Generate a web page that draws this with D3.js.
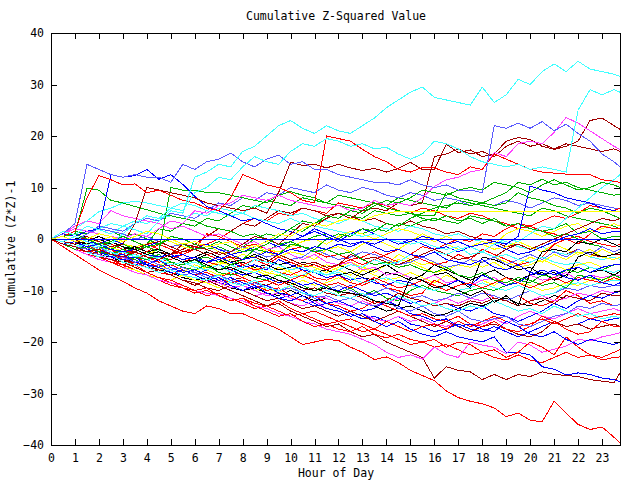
<!DOCTYPE html>
<html><head><meta charset="utf-8">
<script src="https://cdn.jsdelivr.net/npm/d3@7"></script>
<style>
body{margin:0;background:#fff}
svg{display:block}
text{font-family:"DejaVu Sans Mono",monospace;font-size:11.5px;fill:#000}
</style>
</head><body>
<svg id="chart" width="640" height="480"></svg>
<script>
const titleText = "Cumulative Z-Squared Value";
const xLabelText = "Hour of Day";
const yLabelText = "Cumulative (Z*Z)-1";
const hourTicks = d3.range(0, 24);
const valueTicks = [-40, -30, -20, -10, 0, 10, 20, 30, 40];
// sample times (hours): every half hour, then the last sample at 23:45
const hours = [0,0.5,1,1.5,2,2.5,3,3.5,4,4.5,5,5.5,6,6.5,7,7.5,8,8.5,9,9.5,10,10.5,11,11.5,
  12,12.5,13,13.5,14,14.5,15,15.5,16,16.5,17,17.5,18,18.5,19,19.5,20,20.5,21,21.5,22,22.5,23,23.5,23.75];

const palette = {red:"#ff0000", green:"#00b000", blue:"#0000ff", magenta:"#ff40ff", cyan:"#40ffff",
  darkred:"#a00000", yellow:"#ffff00", black:"#000000", lightblue:"#5a5aff"};

const seriesColors = [
 "green","red","lightblue","darkred","blue","magenta","green","cyan","red","yellow","black",
 "yellow","yellow","yellow","yellow","black","black","red","red","red","green","green","magenta","magenta",
 "lightblue","lightblue","blue","blue","blue","cyan","darkred","darkred","red","red","darkred",
 "red","darkred","blue","magenta","red","red","blue","lightblue","cyan",
 "green","green","green","cyan","cyan","blue","black","blue","darkred","darkred","magenta",
 "red","green","lightblue","cyan","cyan","yellow","blue"
];

const seriesValues = [
 [0,-0.5,-1,-2,-1.5,-0.5,-1.5,-2.5,-1,2,1.5,3, 2.5,4,3.5,5,6.5,6,7.5,7,6.5,8,7.5,7, 8.5,8,7.5,7,6.5,8,7.5,7,6.5,6,7.5,7, 6.5,6,5.5,5,4.5,6,5.5,4.5,4,3.5,3,2.5, 2],
 [0,-1,-0.5,-1.5,-2.5,-2,-3,-2,-1,-2,-3,-2.5, -1.5,-1,0,1.5,3,4,3.5,5,4.5,6,5.5,5, 7,6.5,6,7,6.5,5.5,5,6,5.5,4.5,4,5, 4.5,3.5,3,2,2.5,1.5,1,0,0.5,-0.5,-1,-1.5, -1],
 [0,0.5,1.5,1,2.5,2,1.5,3,4,3.5,5,4.5, 4,5.5,7,6.5,8,7.5,9,8.5,10,9.5,9,10.5, 9.5,9,10,9.5,8.5,8,9,8.5,7.5,8,7.5,6.5, 7,6.5,7.5,7,6,7,8,7.5,6.5,7,6.5,6, 6],
 [0,-0.5,-1.5,-1,0,-1,-2,-2.5,-1.5,-2.5,-3,-2, -1,0.5,2,1.5,3,2.5,4,5.5,5,6,5.5,4.5, 5,4.5,3.5,4,3,2.5,3.5,2.5,2,1,1.5,0.5, 0,-0.5,-1.5,-1,-2,-1.5,-2.5,-3,-2,-3,-3.5,-3, -3],
 [0,-0.5,-1.5,-2.5,-2,-3,-4,-5,-4.5,-5.5,-6.5,-7, -6.5,-7.5,-8.5,-9,-10,-9.5,-10.5,-11.5,-11,-12,-13,-12.5, -13.5,-14.5,-15.5,-15,-16,-15,-16.5,-17,-18,-17.5,-16.5,-17.5, -18,-17,-18,-19,-18,-17,-16,-17,-16.5,-15.5,-16,-15.5, -15.3],
 [0,-0.5,-1,-2,-3,-2.5,-3.5,-4.5,-4,-5,-6,-7, -7.5,-8.5,-8,-9,-10,-11,-10.5,-11.5,-12.5,-13,-12,-13.5, -14,-15,-14.5,-15.5,-16,-15,-16,-15.5,-16.5,-17,-16,-17, -16.5,-15.5,-16.5,-15,-14,-15,-15.5,-14.5,-13.5,-14.5,-14,-13.5, -14],
 [0,0.5,-0.5,-1,-2,-1,-2,-3,-2.5,-3.5,-4,-3, -4,-3.5,-4.5,-4,-3,-3.5,-2.5,-1,-1.5,-0.5,0.5,1, 0,1.5,1,2,1.5,3,2.5,3.5,4,3.5,3,4.5, 4,3.5,2.5,3,2,1.5,0.5,1,0,-1,-1.5,-2.5, -2],
 [0,0.5,1.5,1,2,3,2.5,3.5,3,4,4.5,4, 5,4.5,6,5.5,5,6.5,6,5.5,4.5,5,4,3.5, 3,4,3.5,2.5,2,1.5,2.5,2,1,0.5,1,0, -0.5,-1,-0.5,-1.5,-2,-1.5,-2.5,-3,-2.5,-3.5,-4,-3.5, -4],
 [0,-1,-2,-2.5,-3.5,-4.5,-5,-6,-7,-7.5,-8.5,-9.5, -10,-11,-10.5,-11.5,-12.5,-13.5,-13,-14,-15,-14.5,-15.5,-16.5, -16,-17,-18,-17.5,-18.5,-19.5,-20.5,-20,-21,-20.5,-21.5,-22.5, -22,-23,-23.5,-22.5,-23.5,-24,-23,-22,-23,-22.5,-23.5,-23, -22.9],
 [0,-0.5,-1,-2,-1.5,-2.5,-3.5,-3,-4,-5,-4.5,-5.5, -6,-5.5,-4.5,-5,-6,-5.5,-6.5,-7,-6,-5,-5.5,-6.5, -5.5,-4.5,-5.5,-6,-5,-4,-4.5,-5.5,-6.5,-6,-5,-5.5, -4.5,-3.5,-4.5,-5.5,-5,-4,-5,-6,-5,-4.5,-5.5,-5, -5],
 [0,-0.5,-1.5,-2,-3,-3.5,-4.5,-4,-5,-6,-6.5,-7.5, -8,-7.5,-8.5,-9.5,-10,-9.5,-10.5,-11,-10,-11,-12,-11.5, -12.5,-13,-12,-13,-14,-13.5,-13,-14,-15,-14.5,-13.5,-12.5, -13,-12,-11.5,-12.5,-13,-12,-11,-11.5,-10.5,-11,-10,-10.5, -10],
 [0,-0.5,-1.5,-2.5,-3,-2.5,-4,-4.5,-5.5,-6,-5.5,-6.5, -5,-6,-7,-6.5,-7.5,-6,-7,-5.5,-6.5,-7.5,-6,-5, -6,-7,-5.5,-6.5,-5,-3,-4,-5,-4.5,-6,-5,-4, -5.5,-4.5,-6,-5,-3.5,-4.5,-3,-4,-2.5,-3.5,-2,-3, -2.6],
 [0,-1,-2,-3,-3.5,-4.5,-5.5,-6,-7,-7.5,-8,-7, -8,-8.5,-9.5,-8,-9,-10,-9.5,-10.5,-9,-8,-9,-8.5, -7.5,-8.5,-6,-7,-8,-7.5,-6.5,-7.5,-8.5,-7,-8,-9, -8,-9,-7.5,-8.5,-9,-10,-9.5,-8.5,-9,-8,-7.5,-8, -7.9],
 [0,0.5,1,0,-0.5,0.5,-1,-1.5,-1,0,-0.5,-1.5, -2,-1,-2.5,-3,-2,-1,-2.5,-3.5,-2.5,-3,-4,-2, -1.5,-2.5,-1,0,-1,-2,-0.5,1,0,-1,-2,-1.5, -0.5,-1,1,2,1.5,0.5,1.5,2.5,3,1.5,2,3, 2.5],
 [0,-0.5,0.5,-1,-2,-1.5,-2.5,-3.5,-3,-2,-3,-4, -3.5,-4.5,-5,-4,-3,-3.5,-2,-2.5,-1.5,-0.5,0,-1, 0.5,1.5,1,0,1,2,1.5,0.5,-0.5,0.5,-0.5,-1.5, -1,-2,-1.5,-0.5,-1.5,-2.5,-1,-2,-3,-2,-3.5,-4, -3.5],
 [0,0,0,0.5,-0.5,-1.5,-1,-2,-1.5,-2.5,-3.5,-3, -4,-3,-4,-5,-4.5,-5.5,-5,-6,-5.5,-4.5,-5,-6, -7,-6.5,-7.5,-8,-6.5,-7,-8,-7,-5,-6,-7,-8, -7,-6,-7.5,-8,-7,-6.5,-8,-7,-5.5,-6.5,-6,-7, -6.3],
 [0,0.5,-0.5,-1,0,-1,-2,-1.5,-2.5,-2,-3,-4, -3.5,-2.5,-3.5,-4.5,-4,-3,-4,-5,-4.5,-5.5,-6.5,-6, -5,-6,-7,-6,-5,-6.5,-7.5,-8,-7,-6.5,-8,-9.5, -3.5,-4,-5,-6,-5.5,-7,-6.5,-7.5,-3.5,-2.5,-3.5,-3, -2.6],
 [0,0.5,-0.5,-1.5,-1,-2,-3,-2.5,-3.5,-4.5,-4,-3, -2,-3,-4,-3.5,-5,-6,-5.5,-6.5,-7,-6,-7.5,-8, -7,-8.5,-9,-8,-9.5,-10,-11,-10.5,-8,-9,-10,-11, -10,-11.5,-12,-11,-12.5,-13,-12,-10,-11,-12.5,-12,-13, -12.7],
 [0,1,0.5,-0.5,-1.5,-1,-2,-3,-2.5,-1,-2,-3, -2,1,0.5,-0.5,-1.5,-1,-2,-3,-2,-1.5,-2.5,-3.5, -3,-4,-3.5,-2.5,-3.5,-4.5,-3,-4,-5,-4.5,-3,-4, -2,-3,-4,-5,-4.5,-3.5,-1,0,-1,1,2.5,2, 2],
 [0,-0.5,-1.5,-2,-3,-2,-3.5,-4,-3,-4,-5,-4.5, -3.5,-4.5,-5,-6,-5,-4,-5,-3.5,-4.5,-5.5,-5,-6, -5,-4,-5,-4,-3,-2,-3,-1.5,-2,-1,0,-0.5, 1,0.5,2,3,2.5,3.5,4.5,4,5,6.5,6,5.5, 6],
 [0,-0.5,-1,-2,-2.5,-3.5,-3,-4,-5,-5.5,-4.5,-5.5, -6,-5,-6.5,-7,-6.5,-7.5,-8,-7,-8,-9,-10,-9, -10.5,-9.5,-11,-10,-11.5,-12,-10,-9,-10,-10.5,-11,-10, -9.5,-10,-9,-8,-8.5,-7,-7.5,-6,-6.5,-5.5,-6,-5, -5],
 [0,0.5,1.5,1,2,1.5,0.5,1,0,-1,0.5,0, -1,-2,-1.5,-2.5,-1.5,0,1,0.5,2,3.5,3,4, 5,4.5,4,5.5,5,4.5,5,4,3.5,4.5,3.5,4, 3,4,2.5,3,2,1.5,2,3,1,1.5,0,0.5, 0.5],
 [0,1,2.5,3.5,3,5.5,4.5,4,3.5,3,2,2.5, 1.5,0.5,1,0,-1,-0.5,-2,-1.5,-3,-4,-3,-4.5, -5,-4.5,-6,-5.5,-7,-6.5,-7.5,-8,-7,-8.5,-8,-9, -8,-7.5,-9,-8.5,-7,-8,-7.5,-6.5,-8,-7,-7.5,-7, -7],
 [0,-0.5,-1.5,-2.5,-3,-4,-3.5,-5,-5.5,-6.5,-7,-6, -7,-8,-8.5,-9.5,-9,-10,-11,-10.5,-11.5,-12,-11,-11.5, -12.5,-13,-12,-13,-12.5,-11.5,-12,-13,-12.5,-11.5,-12.5,-11.5, -12,-11,-12,-13,-12,-11,-12,-11.5,-10.5,-11,-10,-10.5, -10],
 [0,0.5,-0.5,1,2,1.5,1,0,0.5,-0.5,-1.5,-1, -2,-1,-2,-2.5,-1.5,-2.5,-3.5,-3,-4,-3.5,-2,-3, -4,-3.5,-2.5,-3,-4,-5,-4.5,-3.5,-4.5,-5.5,-5,-4, -4.5,-3.5,-5,-4,-3,-4,-2.5,-3.5,-2,-3,-1.5,-2.5, -2],
 [0,-1,-1.5,-2.5,-3,-2.5,-4,-4.5,-5.5,-5,-6,-7, -6.5,-7,-8,-7.5,-8.5,-9.5,-9,-10,-9.5,-10.5,-11,-10, -9,-10,-11,-10.5,-9.5,-10.5,-11.5,-11,-12,-11.5,-10.5,-11.5, -10.5,-11,-12,-11,-10,-11,-10.5,-9.5,-10,-9,-9.5,-9, -9],
 [0,-0.5,0.5,-0.5,-1.5,-2,-1,-2,-3,-2.5,-3.5,-3, -4,-4.5,-3.5,-4.5,-5.5,-5,-6,-4,-5,-6,-6.5,-7.5, -7,-8,-7.5,-8.5,-9,-8,-8.5,-9.5,-10,-9,-8,-9, -7,-8,-9,-8.5,-7,-6,-7,-6,-5.5,-6.5,-5.5,-5, -5],
 [0,-1,-2,-1.5,-2.5,-3,-4,-3.5,-4.5,-5.5,-5,-6, -7,-6,-5,-6,-7,-6.5,-7.5,-8.5,-8,-9,-8.5,-9.5, -10,-9,-10,-11,-10.5,-11.5,-12.5,-12,-13,-12.5,-13.5,-14, -13,-14.5,-15,-16,-15,-14,-12.5,-13.5,-12,-11,-11.5,-10.5, -10.2],
 [0,1,0.5,-0.5,-1,0,-1,-2,-1.5,-0.5,-1.5,-2.5, -2,-1,-2,-3,-2.5,-1.5,-0.5,-1.5,-0.5,0.5,1.5,0.5, -0.5,1,2,1,0,-1,0,-1,-2,-1.5,-2.5,-1.5, -2.5,-1,-2,-3,-2.5,-1.5,-0.5,0.5,1,2,1,1.5, 1.5],
 [0,-0.5,-1,-2,-1.5,-2.5,-3.5,-3,-4,-3.5,-4.5,-5, -4.5,-5.5,-6,-5,-6,-6.5,-5.5,-6.5,-7.5,-7,-6,-7, -6.5,-7.5,-8.5,-8,-7.5,-8.5,-9,-9.5,-10,-9,-10,-9.5, -8.5,-9.5,-10,-9,-10,-11,-10.5,-9,-8.5,-9,-8.5,-8, -8],
 [0,-0.5,-1.5,-1,-2,-3,-4,-4.5,-4,-5,-6,-5.5, -6.5,-7.5,-7,-8,-7.5,-8.5,-9,-8,-9,-10,-9.5,-10.5, -11,-10.5,-11.5,-12.5,-12,-10.5,-11.5,-12,-13,-12.5,-13,-12, -12.5,-11.5,-12,-13,-12,-11.5,-12.5,-11,-11.5,-12,-10.5,-11, -11],
 [0,0.5,-0.5,0.5,-0.5,-1.5,-1,-2,-1,-0.5,-1.5,-2.5, -2,-3,-2.5,-3.5,-4,-3.5,-4.5,-3,-4,-5,-4.5,-5.5, -5,-3,-4,-3.5,-4.5,-5,-4,-3,-2,-3,-4,-3.5, -2.5,-3.5,-2,-1,-2,-1,0,1,2,3,4,3.5, 4],
 [0,-1,-2,-3,-3.5,-4.5,-5.5,-6.5,-7,-8,-9,-9.5, -10.5,-10,-11,-12,-11.5,-12.5,-13,-12,-13.5,-14.5,-14,-15, -16,-15.5,-16.5,-17.5,-16,-17,-18,-17,-16.5,-17.5,-16,-17, -16,-15,-16,-17,-16.5,-15.5,-16.5,-15.5,-14.5,-15.5,-15,-14.5, -14.7],
 [0,-0.5,-1.5,-2.5,-3.5,-4,-5,-4.5,-5.5,-6.5,-7,-6, -7,-8,-7.5,-6.5,-7.5,-8.5,-8,-9,-8,-7,-8,-9, -8.5,-9.5,-8.5,-7.5,-8.5,-9.5,-9,-8,-9,-10,-9,-8.5, -9.5,-8.5,-7.5,-8.5,-9.5,-8.5,-7.5,-8.5,-7.5,-8,-8.5,-7.5, -7.9],
 [0,-1,-1.5,-2.5,-3.5,-4,-4.5,-5.5,-6.5,-6,-7,-8, -8.5,-9.5,-10,-9,-10,-11,-12,-11.5,-12.5,-13.5,-13,-14, -15,-14,-15,-16,-15,-14,-15,-16,-17,-16,-17,-18, -17,-16.5,-17.5,-18.5,-19,-18,-16,-17,-16.5,-17.5,-17,-16.5, -17],
 [0,-0.5,-1.5,-1,-2.5,-3,-4,-3.5,-4.5,-5.5,-5,-6, -7,-6.5,-7.5,-8.5,-8,-9,-10,-9.5,-11,-12,-11,-12.5, -13,-14,-13.5,-12,-13,-14,-15,-14.5,-15.5,-16,-15,-16.5, -17,-16,-17.5,-18,-17,-15,-16,-17.5,-18.5,-18,-16,-17, -17],
 [0,-1,-2,-3,-2.5,-3.5,-4,-5,-5.5,-6,-7,-8, -9,-8,-9,-10,-11,-12,-13,-12.5,-14,-15,-16,-17, -16.5,-18,-19,-18.5,-20,-21,-22,-23,-27,-24.8,-25.5,-25.8, -27.3,-26.3,-27.3,-26.3,-26.7,-25.8,-26.3,-26.5,-26.7,-27.3,-27.6,-27.9, -26],
 [0,-0.5,-1.5,-2.5,-2,-3.5,-4,-3.5,-5,-5.5,-6.5,-6, -7,-8,-7.5,-9,-10,-9,-10.5,-11.5,-12,-11,-12.5,-13.5, -14,-15,-14.5,-16,-17,-16,-17.5,-18.5,-19,-18,-19,-19.5, -20,-19,-22,-22,-22.5,-24.8,-25.3,-26.4,-26,-26.3,-27,-27.3, -27.7],
 [0,-1,-2,-3,-4,-4.5,-5.5,-6.5,-7,-8,-8.5,-9, -10,-10.5,-11,-11.5,-12,-13,-13.5,-14.5,-15,-16,-16.5,-17.5, -18,-18.5,-19.5,-20.5,-22,-23,-22.5,-23.3,-21,-22.4,-23,-20, -20.6,-21,-22.3,-20,-20.6,-22,-21.4,-20.8,-19.5,-19.8,-19,-18.5, -18.2],
 [0,-1,-1.5,-2.5,-3.5,-4.5,-5.5,-5,-6.5,-7.5,-8,-9, -10,-9.5,-11,-12,-11.5,-13,-14,-15,-14.5,-16,-17,-16.5, -17.5,-18,-17,-18.5,-19.2,-18.5,-19.5,-20,-19.5,-21,-20,-20.5, -22,-21.5,-23,-22,-20,-21,-22.5,-19,-21,-22.5,-23,-22, -21.5],
 [0,-1.5,-3,-4.5,-6,-7.2,-8.2,-9.5,-10.5,-12,-13,-14, -14.5,-13,-13.5,-14.5,-14.5,-15.5,-16.5,-17.5,-19,-20.5,-20,-19.5, -19.7,-21,-22,-23.4,-22.9,-24,-25.5,-26.5,-27.5,-29.5,-30.8,-31.5, -32,-32.8,-34.5,-33.8,-35.2,-35.5,-31.5,-33.8,-36,-37,-36.5,-38.5, -39.6],
 [0,-1,-0.5,-2,-2.5,-3.5,-3,-4.5,-5,-4,-5.5,-6.5, -6,-7,-8,-7.5,-8.5,-9.5,-9,-10.5,-11,-10,-11.5,-12.5, -12,-13,-14,-13.5,-12,-13,-14.5,-15,-16,-15.5,-17,-16.5, -17.5,-18,-16,-17,-18.5,-19,-18,-19.5,-20.5,-19.5,-20,-20.5, -20],
 [0,-0.5,-1.5,-2,-1.5,-3,-3.5,-4.5,-4,-5,-6,-5.5, -6.5,-7.5,-7,-8,-9,-8.5,-9.5,-10,-9,-10.5,-11.5,-11, -12,-11.5,-12.5,-13,-12,-13.5,-14,-13,-14.5,-15,-14,-15.5, -16,-15.5,-15,-16.5,-17,-16,-15,-14.5,-13,-13.5,-12.5,-13, -12.7],
 [0,-1,-1.5,-2.5,-3.5,-3,-4.5,-5,-5.5,-6.5,-6,-7, -7.5,-8,-7,-8.5,-9,-8,-9.5,-10,-9,-10.5,-11,-10, -11,-11.5,-10.5,-12,-12.5,-11,-12,-13,-12.5,-13.5,-14,-13, -13.5,-12,-13,-14,-13.5,-14.5,-13,-14,-15,-14.5,-15.5,-15, -15.3],
 [0,0.5,1,9.8,9.5,7.5,7,6.3,5.7,5,4.5,4, 3.5,2.5,2,1.5,0.5,1,0,-1,-0.5,-1.5,-2.5,-2, -3,-2.5,-4,-5,-4.5,-5.5,-5,-6,-6.5,-5.5,-7,-7.5, -6.5,-8,-8.5,-7.5,-8,-9,-8.5,-9.5,-7,-7.5,-8,-7, -7.5],
 [0,-0.5,-1,-0.5,-1.5,-2,-1,-2,-1.5,-2.5,10,9.5, 9.5,9,9,8.5,8,7.5,7,8.5,9.2,8.5,8,7, 6.5,6,5.5,7,6,5.5,5,4.5,4.5,9,8,7.5, 7,6.5,7,9,8,7.5,6.5,6,5,6,5.5,4.5, 4],
 [0,-1,-2,-1.5,-2.5,-3,-2,-3.5,-4,-3,-4.5,-5, -4,-5.5,-6,-5,-4,-2,-2.5,-3,-1,-1.5,-2,0, 1,0.5,2,1.5,3,2.5,4,5,6,6.5,7,6.5, 7,8,9,11,10.5,11.6,10.5,11,10,9.5,9,8.5, 8.7],
 [0,-0.5,-1.5,-1,-2,-3,-2.5,-3.5,-3,-4,-5,-4.5, -5.5,-6,-5,-6.5,-5.5,-4,-4.5,-5,-6,-5.5,-6.5,-7, -6,-5,-5.5,-4,-5,-4.5,-3,-3.5,-2.5,-3,-2,-1.5, -2.5,-1,0,-0.5,1,2.5,2,4,6,8,10,11.5, 12.5],
 [0,1,2,3.5,5.3,6,7,7.3,7,6.5,6,7, 6.5,5.5,5,4.5,5,4,3.5,3,4,3,2.5,2, 1.5,1,0.5,1,0,-0.5,-1,-0.5,-1.5,-2,-1.5,-3, -2.5,-3.5,-3,-4,-4.5,-3.5,-4.5,-5,-4.5,-5.5,-6,-6.5, -6],
 [0,0.5,-0.5,-1.5,-1,-2,-2.5,-2,-3,-3.5,-3,-4, -3.5,-4.5,-4,-3,-4,-3.5,-2.5,-3,-2,-2.5,-1.5,-2, -1,-1.5,-0.5,-1,0,-1,-0.5,0.5,0,-1,-0.5,-1.5, -1,-0.5,-1,0.5,10.3,9.5,9,8,7.5,7,6,5.5, 5.3],
 [0,-0.5,-1,-0.5,0.5,-0.5,-1.5,-2,-3,-2.5,-3.5,-4.5, -4,-5,-6,-5.5,-6.5,-7.5,-7,-8,-8.5,-9.5,-10,-9.5, -10.2,-10.5,-11,-12,-12.5,-13,-7.5,-8,-9.5,-9,-10,-11, -10,-12.3,-11,-13,-6.5,-2.5,-2,-2.5,-0.5,-1,0,-1, -1.5],
 [0,1,0.5,1.5,2,12.5,12,12.3,13.5,11.6,12.5,10.6, 8.3,6.3,5.5,4.5,3.5,4,3,2,1.5,0.5,2,1, 0,-1,-0.5,-1.5,-2.5,-2,-3,-3.5,-2.5,-4,-4.5,-5, -4,-5.5,-6,-5,-6.5,-7,-6,-7.5,-8,-7,-8.5,-9, -8.5],
 [0,-1,-1.5,-2.5,-2,-3,-3.5,-2.5,-3.5,-4,-3,-1, -1.5,-2,-3,-2.5,-1,0.5,0,-1,1,3,2.5,4, 5,4,5.5,6,5.5,7,6.5,7,16,16.5,17.5,16.5, 17,16,18,19,18,18.5,17.5,18.5,18,17.5,17,17.5, 17],
 [0,-0.5,-1,0.5,-0.5,-1.5,-1,3,10,9.5,9,8.5, 8,7,6.5,6,5.5,6,5,9,14.9,14.3,14.5,13.8, 14.5,13.8,13.3,13.7,13,13.7,14.9,13.5,13.5,18.4,16.8,17.3, 16,16.5,19,19.7,19.3,18,17.4,18,19,23,23.5,22, 21.3],
 [0,1,2,1.5,1,0.5,0,1,0.5,2,3.5,3, 5.5,5,6.5,7,8.5,8,7.5,8.5,7.5,7,6.5,6, 6.5,5.5,6,7.5,6.5,7,6.5,8,10.2,11.5,12,13, 13.5,16.8,16,18.5,19,18.5,20.7,23.6,22.5,21,19.5,18, 17.4],
 [0,0.5,1.5,8,12.3,11.5,10.5,10.7,9,9.5,8.5,7.5, 7,6,5.5,8,12.5,11.6,10.5,10,9,7.5,7,20, 19.5,19,17.4,16,15,13.5,13,13.9,13.8,13,12.5,14, 13.5,16.5,15.5,14.5,13.5,13,12.8,12.6,12.5,12.5,11.5,11.2, 11],
 [0,0.5,1,0,-1,-0.5,0.5,-0.5,-1.5,-1,0,-1, -2,-1.5,-0.5,-1.5,-2.5,-2,-1,0.5,2,1.5,3,4.5, 4,5.5,5,6.5,7.5,7,8,9.5,9,8.5,9.5,10, 9.5,11,10.5,10,9,10.5,11.5,10.5,9.5,10,11,10.5, 10],
 [0,1,3,14.5,13.5,12.5,12,12.5,12,12,11,14.5, 13.5,15,15.5,16.7,15,14,15.5,16.3,14.5,15,13.5,13.5, 12.5,12,11.5,11,11,10.5,11.5,10.5,10,10.5,9.5,9.5, 9,22,21.5,22.5,21.5,22.8,21,22.3,20.5,19,16.5,15, 14],
 [0,-0.5,0.5,-0.5,-1.5,-1,1,3,4.5,4,6,5.5, 9,10,12,11.5,14,16,15,14.5,17,18.5,18,19.5, 19,18,18.5,17.5,17.8,16.5,15.5,16.5,19,18.5,17.5,16, 15,14.5,14,14.5,13.5,14,13.5,13,25,29,28,29, 28.5],
 [0,1.5,0.8,2.5,1.8,1,2.5,1.8,1,3.5,5.5,5, 12,13,14.5,14,17,18,20,22,23,21.5,20.5,22, 21,20.5,22,23.5,25.5,27,28.5,29.5,27.5,27,26.5,26, 29.5,26.5,28,31,30,32.5,34,32.5,34.5,33,32.5,32, 31.6],
 [0,0.5,-0.5,0,1,0.5,-0.5,0.5,1.5,1,0,-1, -0.5,-1.5,-1,-0.5,-2,-1.5,-0.5,1,0.5,2,3,2.5, 3.5,4,3.5,4.5,5,5.4,5.4,5.4,5.4,5.4,5.4,5.4, 5.4,5.4,5.4,5.4,5.4,5.4,5.4,5.4,5.4,5.4,5.4,5.4, 5.4],
 [0,0,0,0,0,0,0,0,0,0,0,0, 0,0,0,0,0,0,0,0,0,0,0,0, 0,0,0,0,0,0,0,0,0,0,0,0, 0,0,0,0,0,0,0,0,0,0,0,0, 0]
];

const svg = d3.select("#chart");
const plotLeft = 51, plotRight = 620, plotTop = 33, plotBottom = 445;
const x = d3.scaleLinear().domain([0, 23.75]).range([plotLeft, plotRight]);
const y = d3.scaleLinear().domain([-40, 40]).range([plotBottom, plotTop]);

const line = d3.line().x((d, i) => x(hours[i])).y(d => y(d));
const plot = svg.append("g");
seriesValues.forEach((vals, k) => {
  plot.append("path")
    .attr("d", line(vals.slice(0, hours.length)))
    .attr("fill", "none")
    .attr("stroke", palette[seriesColors[k]] || "#000")
    .attr("stroke-width", 1)
    .attr("shape-rendering", "crispEdges");
});

function styleAxis(g) {
  g.select(".domain").remove();
  g.selectAll("line").attr("stroke", "#000").attr("shape-rendering", "crispEdges");
  g.selectAll("text").attr("font-family", "DejaVu Sans Mono, monospace").attr("font-size", "11.5px").attr("fill", "#000");
  g.attr("font-family", null).attr("font-size", null);
}
svg.append("g").attr("transform", `translate(0,${plotBottom})`)
  .call(d3.axisBottom(x).tickValues(hourTicks).tickFormat(d3.format("d")).tickSizeInner(-6).tickSizeOuter(0).tickPadding(9))
  .call(styleAxis);
svg.append("g").attr("transform", `translate(0,${plotTop})`)
  .call(d3.axisTop(x).tickValues(hourTicks).tickFormat("").tickSizeInner(-6).tickSizeOuter(0))
  .call(styleAxis);
svg.append("g").attr("transform", `translate(${plotLeft},0)`)
  .call(d3.axisLeft(y).tickValues(valueTicks).tickFormat(d3.format("d")).tickSizeInner(-6).tickSizeOuter(0).tickPadding(7))
  .call(styleAxis);
svg.append("g").attr("transform", `translate(${plotRight},0)`)
  .call(d3.axisRight(y).tickValues(valueTicks).tickFormat("").tickSizeInner(-6).tickSizeOuter(0))
  .call(styleAxis);

svg.append("rect")
  .attr("x", plotLeft + 0.5).attr("y", plotTop + 0.5)
  .attr("width", plotRight - plotLeft).attr("height", plotBottom - plotTop)
  .attr("fill", "none").attr("stroke", "#000").attr("stroke-width", 1)
  .attr("shape-rendering", "crispEdges");

svg.append("text").attr("x", 336).attr("y", 20).attr("text-anchor", "middle").text(titleText);
svg.append("text").attr("x", 336).attr("y", 477).attr("text-anchor", "middle").text(xLabelText);
svg.append("text").attr("transform", "translate(15,243) rotate(-90)").attr("text-anchor", "middle").text(yLabelText);
</script>
</body></html>
